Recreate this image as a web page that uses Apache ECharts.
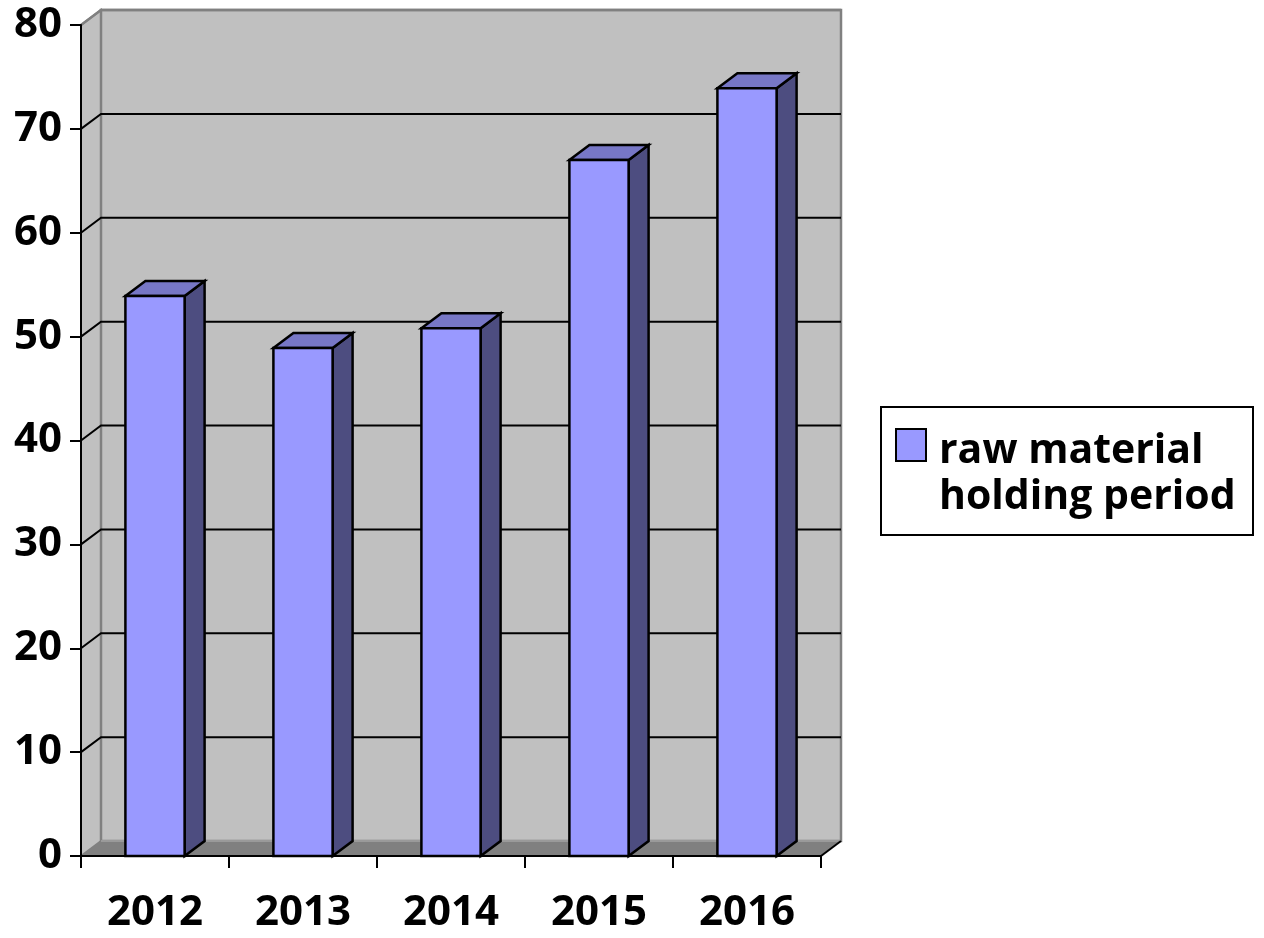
<!DOCTYPE html>
<html>
<head>
<meta charset="utf-8">
<script src="https://cdn.jsdelivr.net/npm/echarts@6/dist/echarts.min.js"></script>
<style>
  html, body { margin: 0; padding: 0; background: #ffffff; }
  #chart { width: 1264px; height: 938px; }
</style>
</head>
<body>
<div id="chart"></div>
<script>
// Raw material holding period by year
const categories = ['2012', '2013', '2014', '2015', '2016'];
const holdingDays = [53.9, 48.9, 50.8, 67.0, 73.9];
const yTicks = [0, 10, 20, 30, 40, 50, 60, 70, 80];
const seriesName = 'raw material holding period';
const legendLines = ['raw material', 'holding period'];

// 3D look: depth offset of the box
const DX = 20, DY = -15;
const FONT = '"Open Sans", "Noto Sans", sans-serif';

const chart = echarts.init(document.getElementById('chart'), null, { renderer: 'canvas' });

// Back wall, side wall, floor and gridlines
function renderWalls(params, api) {
  const cs = params.coordSys;
  const v = api.value(1);
  const children = [];
  const gx = cs.x, gy = cs.y, gw = cs.width, gh = cs.height;
  const yb = gy + gh;
  if (v === yTicks[0]) {
    children.push({
      type: 'polygon',
      shape: { points: [[gx, gy], [gx + DX, gy + DY], [gx + DX, yb + DY], [gx, yb]] },
      style: { fill: '#C0C0C0', stroke: '#808080', lineWidth: 2 }
    });
    children.push({
      type: 'rect',
      shape: { x: gx + DX, y: gy + DY, width: gw, height: gh },
      style: { fill: '#C0C0C0', stroke: '#808080', lineWidth: 2.5 }
    });
    children.push({
      type: 'polygon',
      shape: { points: [[gx, yb], [gx + DX, yb + DY], [gx + gw + DX, yb + DY], [gx + gw, yb]] },
      style: { fill: '#808080', stroke: null }
    });
    children.push({
      type: 'polyline',
      shape: { points: [[gx + DX, yb + DY], [gx + gw + DX, yb + DY]] },
      style: { stroke: '#9A9A9A', lineWidth: 2, fill: null }
    });
    children.push({
      type: 'line',
      shape: { x1: gx + gw, y1: yb, x2: gx + gw + DX, y2: yb + DY },
      style: { stroke: '#000', lineWidth: 2 }
    });
  } else {
    const y = api.coord([0, v])[1];
    const isTop = v === yTicks[yTicks.length - 1];
    children.push({
      type: 'polyline',
      shape: { points: [[gx, y], [gx + DX, y + DY], [gx + gw + DX, y + DY]] },
      style: { stroke: isTop ? '#808080' : '#000000', lineWidth: isTop ? 2.5 : 2, fill: null }
    });
  }
  return { type: 'group', children };
}

// 3D column: front face, top and right side
function renderBar(params, api) {
  const idx = api.value(0);
  const top = api.coord([idx, api.value(1)]);
  const base = api.coord([idx, 0]);
  const w = api.size([1, 0])[0] * 0.4;
  const x0 = top[0] - w / 2, x1 = top[0] + w / 2;
  const yt = top[1], yb = base[1];
  const line = { stroke: '#000000', lineWidth: 2.5, lineJoin: 'miter' };
  return {
    type: 'group',
    children: [
      { type: 'polygon', shape: { points: [[x1, yt], [x1 + DX, yt + DY], [x1 + DX, yb + DY], [x1, yb]] },
        style: Object.assign({ fill: '#4D4D80' }, line) },
      { type: 'polygon', shape: { points: [[x0, yt], [x0 + DX, yt + DY], [x1 + DX, yt + DY], [x1, yt]] },
        style: Object.assign({ fill: '#7777C6' }, line) },
      { type: 'rect', shape: { x: x0, y: yt, width: w, height: yb - yt },
        style: Object.assign({ fill: '#9999FF' }, line) }
    ]
  };
}

const labelStyle = { color: '#000', fontFamily: FONT, fontWeight: 'bold', fontSize: 42 };

chart.setOption({
  animation: false,
  backgroundColor: '#ffffff',
  grid: { left: 81, top: 25, width: 740, height: 831, containLabel: false },
  xAxis: {
    type: 'category',
    data: categories,
    z: 5,
    axisLine: { show: true, lineStyle: { color: '#000', width: 2 } },
    axisTick: { show: true, length: 12, alignWithLabel: false, lineStyle: { color: '#000', width: 2 } },
    axisLabel: Object.assign({ margin: 36 }, labelStyle),
    splitLine: { show: false }
  },
  yAxis: {
    type: 'value',
    min: 0, max: 80, interval: 10,
    z: 5,
    axisLine: { show: true, lineStyle: { color: '#000', width: 2 } },
    axisTick: { show: true, length: 11, lineStyle: { color: '#000', width: 2 } },
    axisLabel: Object.assign({ margin: 19 }, labelStyle),
    splitLine: { show: false }
  },
  graphic: [
    { type: 'rect', left: 880, top: 406, shape: { width: 372, height: 128 },
      style: { fill: '#fff', stroke: '#000', lineWidth: 2 } },
    { type: 'rect', left: 895, top: 428, shape: { width: 30, height: 32 },
      style: { fill: '#9999FF', stroke: '#000', lineWidth: 2 } },
    { type: 'text', left: 939, top: 428,
      style: { text: legendLines.join('\n'), fill: '#000', font: 'bold 41px ' + FONT, lineHeight: 46 } }
  ],
  series: [
    {
      type: 'custom',
      name: 'walls',
      silent: true,
      z: 1,
      renderItem: renderWalls,
      data: yTicks.map(v => [0, v])
    },
    {
      type: 'custom',
      name: seriesName,
      z: 2,
      renderItem: renderBar,
      encode: { x: 0, y: 1 },
      data: holdingDays.map((v, i) => [i, v])
    }
  ]
});
</script>
</body>
</html>
